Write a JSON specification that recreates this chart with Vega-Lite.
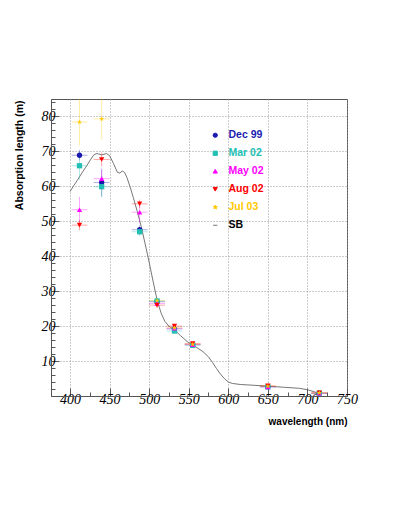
{
  "$schema": "https://vega.github.io/schema/vega-lite/v6.json",
  "width": 296,
  "height": 297,
  "autosize": {"type": "none"},
  "padding": {"left": 51, "top": 99, "right": 62, "bottom": 133},
  "background": "white",
  "config": {
    "view": {"stroke": "#555", "strokeWidth": 1},
    "axis": {"domainColor": "#555", "tickColor": "#555", "labelColor": "#000", "titleColor": "#000"},
    "legend": {
      "orient": "none", "legendX": 159, "legendY": 31, "padding": 0,
      "labelFont": "Liberation Sans", "labelFontWeight": "bold", "labelFontSize": 10.5,
      "symbolSize": 18, "rowPadding": 7, "labelOffset": 8, "symbolOpacity": 1
    }
  },
  "datasets": {
    "sb": [
      {"series": "SB", "wl": 400, "al": 58.5},
      {"series": "SB", "wl": 405, "al": 60.3},
      {"series": "SB", "wl": 410, "al": 62.0},
      {"series": "SB", "wl": 415, "al": 63.8},
      {"series": "SB", "wl": 420, "al": 65.5},
      {"series": "SB", "wl": 425, "al": 67.3},
      {"series": "SB", "wl": 430, "al": 69.0},
      {"series": "SB", "wl": 434, "al": 69.4},
      {"series": "SB", "wl": 440, "al": 69.0},
      {"series": "SB", "wl": 446, "al": 69.4},
      {"series": "SB", "wl": 450, "al": 68.8},
      {"series": "SB", "wl": 455, "al": 66.5},
      {"series": "SB", "wl": 460, "al": 64.0},
      {"series": "SB", "wl": 463, "al": 63.8},
      {"series": "SB", "wl": 466, "al": 64.4},
      {"series": "SB", "wl": 469, "al": 64.0},
      {"series": "SB", "wl": 472, "al": 62.5},
      {"series": "SB", "wl": 476, "al": 59.8},
      {"series": "SB", "wl": 480, "al": 56.8},
      {"series": "SB", "wl": 485, "al": 52.8},
      {"series": "SB", "wl": 490, "al": 48.5},
      {"series": "SB", "wl": 495, "al": 43.5},
      {"series": "SB", "wl": 500, "al": 38.3},
      {"series": "SB", "wl": 505, "al": 32.8},
      {"series": "SB", "wl": 510, "al": 27.5},
      {"series": "SB", "wl": 515, "al": 23.8},
      {"series": "SB", "wl": 520, "al": 21.3},
      {"series": "SB", "wl": 525, "al": 20.0},
      {"series": "SB", "wl": 532, "al": 18.9},
      {"series": "SB", "wl": 540, "al": 17.2},
      {"series": "SB", "wl": 548, "al": 15.6},
      {"series": "SB", "wl": 555, "al": 14.6},
      {"series": "SB", "wl": 562, "al": 13.6},
      {"series": "SB", "wl": 568, "al": 12.7},
      {"series": "SB", "wl": 575, "al": 11.2},
      {"series": "SB", "wl": 580, "al": 9.6},
      {"series": "SB", "wl": 585, "al": 7.9},
      {"series": "SB", "wl": 590, "al": 6.3},
      {"series": "SB", "wl": 595, "al": 5.0},
      {"series": "SB", "wl": 600, "al": 4.0},
      {"series": "SB", "wl": 605, "al": 3.6},
      {"series": "SB", "wl": 615, "al": 3.3},
      {"series": "SB", "wl": 630, "al": 3.1},
      {"series": "SB", "wl": 650, "al": 2.8},
      {"series": "SB", "wl": 670, "al": 2.5},
      {"series": "SB", "wl": 690, "al": 2.2},
      {"series": "SB", "wl": 700, "al": 1.8},
      {"series": "SB", "wl": 710, "al": 1.1},
      {"series": "SB", "wl": 715, "al": 0.8}
    ],
    "pts": [
      {"series": "Dec 99", "wl": 412, "al": 68.9, "dy": 1.5, "dx": 10},
      {"series": "Dec 99", "wl": 440, "al": 61.1, "dy": 4.0, "dx": 10},
      {"series": "Dec 99", "wl": 488, "al": 47.6, "dy": 1.2, "dx": 10},
      {"series": "Dec 99", "wl": 510, "al": 27.0, "dy": 0.8, "dx": 10},
      {"series": "Dec 99", "wl": 532, "al": 19.2, "dy": 0.6, "dx": 10},
      {"series": "Dec 99", "wl": 555, "al": 14.7, "dy": 0.5, "dx": 10},
      {"series": "Dec 99", "wl": 650, "al": 2.7, "dy": 0.3, "dx": 10},
      {"series": "Dec 99", "wl": 715, "al": 0.8, "dy": 0.2, "dx": 10},
      {"series": "Mar 02", "wl": 412, "al": 65.9, "dy": 4.0, "dx": 10},
      {"series": "Mar 02", "wl": 440, "al": 59.9, "dy": 3.0, "dx": 10},
      {"series": "Mar 02", "wl": 488, "al": 47.0, "dy": 1.2, "dx": 10},
      {"series": "Mar 02", "wl": 510, "al": 27.2, "dy": 0.8, "dx": 10},
      {"series": "Mar 02", "wl": 532, "al": 18.6, "dy": 0.6, "dx": 10},
      {"series": "Mar 02", "wl": 555, "al": 14.5, "dy": 0.5, "dx": 10},
      {"series": "Mar 02", "wl": 650, "al": 2.6, "dy": 0.3, "dx": 10},
      {"series": "Mar 02", "wl": 715, "al": 0.8, "dy": 0.2, "dx": 10},
      {"series": "May 02", "wl": 412, "al": 53.3, "dy": 3.7, "dx": 10},
      {"series": "May 02", "wl": 440, "al": 62.2, "dy": 2.5, "dx": 10},
      {"series": "May 02", "wl": 488, "al": 52.6, "dy": 3.0, "dx": 10},
      {"series": "May 02", "wl": 510, "al": 26.5, "dy": 0.8, "dx": 10},
      {"series": "May 02", "wl": 532, "al": 19.4, "dy": 0.6, "dx": 10},
      {"series": "May 02", "wl": 555, "al": 14.7, "dy": 0.5, "dx": 10},
      {"series": "May 02", "wl": 650, "al": 2.6, "dy": 0.3, "dx": 10},
      {"series": "May 02", "wl": 715, "al": 0.8, "dy": 0.2, "dx": 10},
      {"series": "Aug 02", "wl": 412, "al": 48.9, "dy": 1.5, "dx": 10},
      {"series": "Aug 02", "wl": 440, "al": 67.7, "dy": 2.0, "dx": 10},
      {"series": "Aug 02", "wl": 488, "al": 55.0, "dy": 1.2, "dx": 10},
      {"series": "Aug 02", "wl": 510, "al": 26.0, "dy": 0.8, "dx": 10},
      {"series": "Aug 02", "wl": 532, "al": 20.0, "dy": 0.6, "dx": 10},
      {"series": "Aug 02", "wl": 555, "al": 15.0, "dy": 0.5, "dx": 10},
      {"series": "Aug 02", "wl": 650, "al": 2.9, "dy": 0.3, "dx": 10},
      {"series": "Aug 02", "wl": 715, "al": 0.9, "dy": 0.2, "dx": 10},
      {"series": "Jul 03", "wl": 412, "al": 78.4, "dy": 6.7, "dx": 10},
      {"series": "Jul 03", "wl": 440, "al": 79.3, "dy": 6.0, "dx": 10},
      {"series": "Jul 03", "wl": 510, "al": 27.3, "dy": 0.8, "dx": 10},
      {"series": "Jul 03", "wl": 532, "al": 19.5, "dy": 0.6, "dx": 10},
      {"series": "Jul 03", "wl": 555, "al": 14.8, "dy": 0.5, "dx": 10},
      {"series": "Jul 03", "wl": 650, "al": 2.8, "dy": 0.3, "dx": 10},
      {"series": "Jul 03", "wl": 715, "al": 0.9, "dy": 0.2, "dx": 10}
    ]
  },
  "encoding": {
    "x": {
      "field": "wl", "type": "quantitative",
      "scale": {"domain": [376, 750], "nice": false, "zero": false},
      "axis": {
        "orient": "bottom",
        "values": [400, 425, 450, 475, 500, 525, 550, 575, 600, 625, 650, 675, 700, 725, 750],
        "labelExpr": "datum.value % 50 === 0 ? datum.label : ''",
        "grid": true, "gridDash": [1, 2], "gridColor": "#999",
        "gridOpacity": {"condition": {"test": "datum.value % 50 === 0", "value": 1}, "value": 0},
        "tickSize": {"condition": {"test": "datum.value % 50 === 0", "value": -8}, "value": -4},
        "labelFont": "Liberation Serif", "labelFontStyle": "italic", "labelFontSize": 14,
        "labelPadding": 4, "labelFlush": false, "labelOverlap": false,
        "title": "wavelength (nm)", "titleFont": "Liberation Sans", "titleFontWeight": "bold", "titleFontSize": 10,
        "titleAnchor": "end", "titleAlign": "right", "titleX": 296, "titleY": 28, "titleBaseline": "alphabetic"
      }
    },
    "y": {
      "field": "al", "type": "quantitative",
      "scale": {"domain": [0, 85], "nice": false, "zero": false},
      "axis": {
        "orient": "left",
        "values": [2, 4, 6, 8, 10, 12, 14, 16, 18, 20, 22, 24, 26, 28, 30, 32, 34, 36, 38, 40, 42, 44, 46, 48, 50, 52, 54, 56, 58, 60, 62, 64, 66, 68, 70, 72, 74, 76, 78, 80, 82, 84],
        "labelExpr": "datum.value % 10 === 0 ? datum.label : ''",
        "grid": true, "gridDash": [1, 2], "gridColor": "#999",
        "gridOpacity": {"condition": {"test": "datum.value % 10 === 0", "value": 1}, "value": 0},
        "tickSize": {"condition": {"test": "datum.value % 10 === 0", "value": -8}, "value": -4},
        "labelFont": "Liberation Serif", "labelFontStyle": "italic", "labelFontSize": 14,
        "labelPadding": 4, "labelFlush": false, "labelOverlap": false,
        "title": "Absorption length (m)", "titleFont": "Liberation Sans", "titleFontWeight": "bold", "titleFontSize": 10.5,
        "titleAnchor": "end", "titleAlign": "right", "titleAngle": -90, "titleX": -28.5, "titleY": 1, "titleBaseline": "alphabetic"
      }
    },
    "color": {
      "field": "series", "type": "nominal",
      "scale": {
        "domain": ["Dec 99", "Mar 02", "May 02", "Aug 02", "Jul 03", "SB"],
        "range": ["#1a1ab0", "#22c0b4", "#ff00ff", "#ff0000", "#ffc800", "#777777"]
      },
      "legend": {
        "title": null,
        "encode": {
          "labels": {"update": {"fill": {"signal": "datum.value === 'SB' ? '#000000' : scale('color', datum.value)"}}},
          "symbols": {"update": {
            "fill": {"signal": "datum.value === 'SB' ? 'transparent' : scale('color', datum.value)"},
            "stroke": {"signal": "datum.value === 'SB' ? '#777777' : scale('color', datum.value)"},
            "strokeWidth": {"value": 1},
            "opacity": {"value": 1},
            "shape": {"signal": "scale('shape', datum.value)"}
          }}
        }
      }
    }
  },
  "layer": [
    {
      "data": {"name": "sb"},
      "mark": {"type": "line", "strokeWidth": 1, "clip": true}
    },
    {
      "data": {"name": "pts"},
      "mark": {"type": "errorbar", "opacity": 0.35, "clip": true},
      "encoding": {
        "yError": {"field": "dy"}
      }
    },
    {
      "data": {"name": "pts"},
      "mark": {"type": "errorbar", "opacity": 0.35, "clip": true},
      "encoding": {
        "xError": {"field": "dx"}
      }
    },
    {
      "data": {"name": "pts"},
      "mark": {"type": "point", "filled": true, "opacity": 1, "size": 28, "clip": true},
      "encoding": {
        "shape": {
          "field": "series", "type": "nominal",
          "scale": {
            "domain": ["Dec 99", "Mar 02", "May 02", "Aug 02", "Jul 03", "SB"],
            "range": ["circle", "square", "triangle-up", "triangle-down", "M0,-1L0.2245,-0.309L0.951,-0.309L0.363,0.118L0.588,0.809L0,0.382L-0.588,0.809L-0.363,0.118L-0.951,-0.309L-0.2245,-0.309Z", "stroke"]
          },
          "legend": {
            "title": null,
            "encode": {
              "labels": {"update": {"fill": {"signal": "datum.value === 'SB' ? '#000000' : scale('color', datum.value)"}}},
              "symbols": {"update": {
                "fill": {"signal": "datum.value === 'SB' ? 'transparent' : scale('color', datum.value)"},
                "stroke": {"signal": "datum.value === 'SB' ? '#777777' : scale('color', datum.value)"},
                "strokeWidth": {"value": 1},
                "opacity": {"value": 1},
                "shape": {"signal": "scale('shape', datum.value)"}
              }}
            }
          }
        }
      }
    }
  ]
}
